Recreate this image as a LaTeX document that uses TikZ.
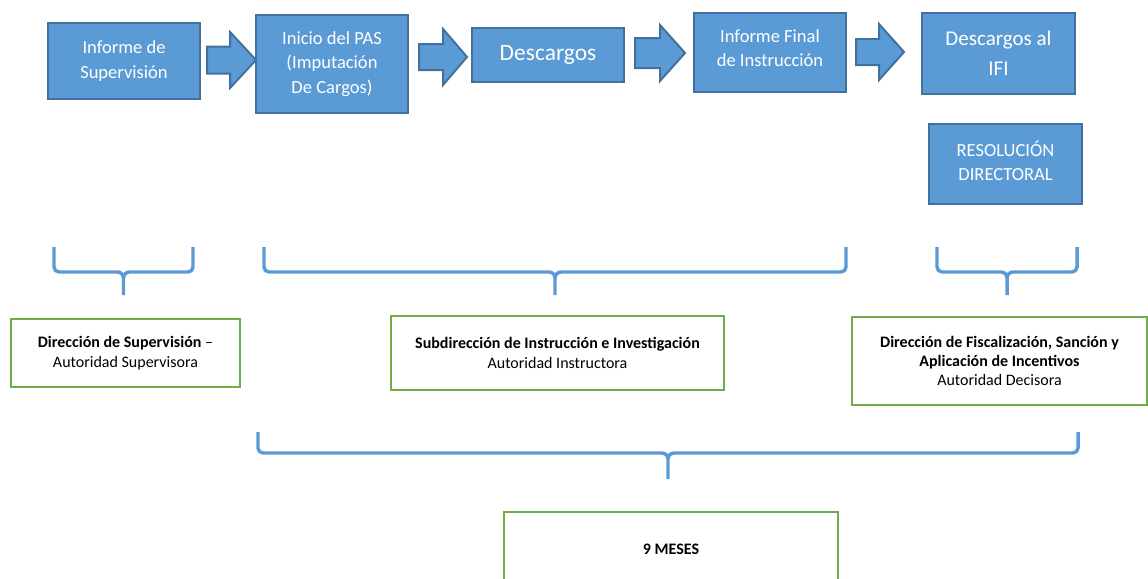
\documentclass[tikz,border=0pt]{standalone}
\usepackage{fontspec}
\setmainfont{Carlito}
\definecolor{boxblue}{HTML}{5B9BD5}
\definecolor{boxedge}{HTML}{41719C}
\definecolor{boxgreen}{HTML}{70AD47}
\newcommand{\blockarr}[6]{% x0, xh, xt, yc, bodyhalf, headhalf (px, y down)
  \draw[arrowshape] (#1,{-(#4-#5)}) -- (#2,{-(#4-#5)}) -- (#2,{-(#4-#6)}) -- (#3,-#4)
    -- (#2,{-(#4+#6)}) -- (#2,{-(#4+#5)}) -- (#1,{-(#4+#5)}) -- cycle;}
\newcommand{\wordbrace}[5]{% left, right, top, line, tip (px, y down)
  \pgfmathsetmacro{\bcx}{(#1+#2)/2}
  \draw[bracestyle] (#1,-#3) -- (#1,{-(#4-5)}) to[out=-90,in=180] ({#1+5},-#4)
    -- ({\bcx-6},-#4) to[out=0,in=90] (\bcx,{-(#4+6)}) -- (\bcx,-#5);
  \draw[bracestyle] (#2,-#3) -- (#2,{-(#4-5)}) to[out=-90,in=0] ({#2-5},-#4)
    -- ({\bcx+6},-#4) to[out=180,in=90] (\bcx,{-(#4+6)});}
\begin{document}
\begin{tikzpicture}[x=0.75pt,y=0.75pt,
  bluebox/.style={draw=boxedge, fill=boxblue, line width=1.5pt, text=white,
    align=center, inner sep=0pt, font=\fontsize{13.9}{18.4}\selectfont},
  bluetext/.style={text=white, align=center, inner sep=0pt, font=\fontsize{13.9}{18.4}\selectfont},
  greenbox/.style={draw=boxgreen, fill=white, line width=1.9pt, text=black,
    align=center, inner sep=0pt, font=\fontsize{12}{14.8}\selectfont},
  sz/.style 2 args={minimum width=#1*0.75pt, minimum height=#2*0.75pt},
  arrowshape/.style={draw=boxedge, fill=boxblue, line width=1.5pt, line join=miter},
  bracestyle/.style={draw=boxblue, line width=2.6pt, line join=round, line cap=butt}]
\useasboundingbox (0,0) rectangle (1148,-578);
\clip (0,0) rectangle (1148,-578);

% top process boxes
\node[bluebox, sz={152}{76}] (b1) at (124,-61) {Informe de\\Supervisión};
\node[bluebox, sz={152}{98}] (b2) at (332,-64) {Inicio del PAS\\(Imputación\\De Cargos)};
\node[bluebox, sz={152}{54}, font=\fontsize{17.6}{21}\selectfont] (b3) at (548,-55) {Descargos};
\node[bluebox, sz={152}{79}] (b4) at (770,-52.5) {};
\node[bluetext, font=\fontsize{13.9}{18}\selectfont] (b4t) at ([yshift=3.3pt]b4.center) {Informe Final\\de Instrucción};
\node[bluebox, sz={153}{81}, font=\fontsize{15.75}{22.5}\selectfont] (b5) at (998.5,-53.5) {Descargos al\\IFI};
\node[bluebox, sz={153}{80}] (b6) at (1005.5,-164) {};
\node[bluetext] (b6t) at ([yshift=2.4pt]b6.center) {RESOLUCIÓN\\DIRECTORAL};

% block arrows between boxes
\blockarr{207}{230}{256}{60}{13.5}{28}
\blockarr{419}{443}{467}{57}{13}{28}
\blockarr{635}{660}{685}{53}{15}{28}
\blockarr{856}{879}{904}{52}{13}{28}

% braces
\wordbrace{54}{193}{247}{272}{295}
\wordbrace{264}{846}{247}{272}{295}
\wordbrace{937}{1077}{247}{272}{295}
\wordbrace{258}{1078}{432}{453}{479}

% authority boxes
\node[greenbox, sz={229}{68}] (g1) at (125.5,-353) {\textbf{Dirección de Supervisión} –\\Autoridad Supervisora};
\node[greenbox, sz={333}{74}] (g2) at (557.5,-353) {\textbf{Subdirección de Instrucción e Investigación}\\Autoridad Instructora};
\node[greenbox, sz={295}{88}, font=\fontsize{12}{14}\selectfont] (g3) at (999.5,-361) {\textbf{Dirección de Fiscalización, Sanción y}\\\textbf{Aplicación de Incentivos}\\Autoridad Decisora};
\node[greenbox, sz={334}{74}] (g4) at (671,-549) {\textbf{9 MESES}};
\end{tikzpicture}
\end{document}
